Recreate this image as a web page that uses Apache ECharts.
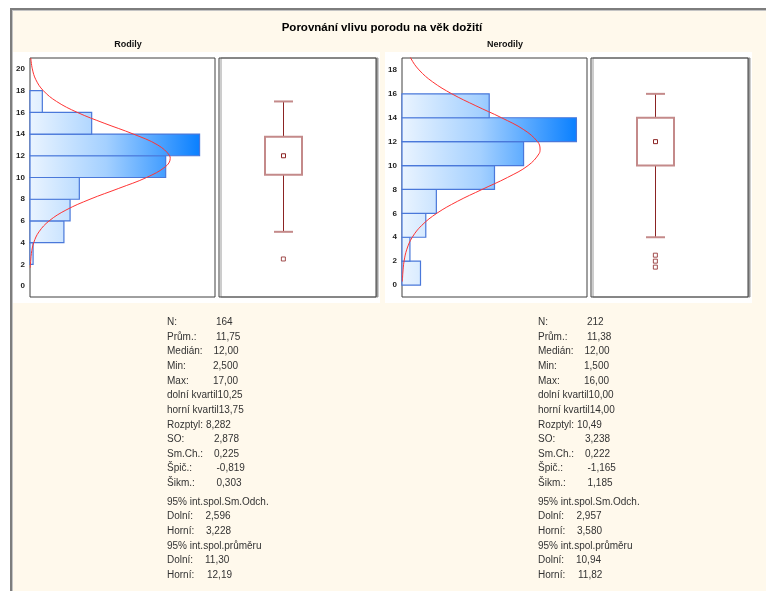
<!DOCTYPE html>
<html>
<head>
<meta charset="utf-8">
<script src="https://cdn.jsdelivr.net/npm/echarts@6/dist/echarts.min.js"></script>
<style>
  html, body { margin: 0; padding: 0; background: #fff; }
  #chart { width: 766px; height: 591px; }
</style>
</head>
<body>
<div id="chart"></div>
<script>
// ---------- data ----------
const titleText = 'Porovnání vlivu porodu na věk dožití';
const groupNames = ['Rodily', 'Nerodily'];

// histogram bins (lower edge of each 2-year bin) and counts
const binWidth = 2;
const rodilyBinStarts = [2, 4, 6, 8, 10, 12, 14, 16];
const rodilyCounts = [1, 11, 13, 16, 44, 55, 20, 4];
const nerodilyBinStarts = [0, 2, 4, 6, 8, 10, 12, 14];
const nerodilyCounts = [7, 3, 9, 13, 35, 46, 66, 33];

// fitted normal curve (value on the vertical axis, expected count horizontally)
const rodilyCurveY = [1.7, 2, 3, 4, 5, 6, 7, 8, 9, 10, 11, 11.75, 12, 13, 14, 15, 16, 17, 18, 19, 20, 21];
const rodilyCurveCount = [0.10, 0.15, 0.45, 1.21, 2.91, 6.18, 11.65, 19.46, 28.80, 37.79, 43.95, 45.47, 45.30, 41.38, 33.50, 24.04, 15.28, 8.61, 4.30, 1.90, 0.75, 0.26];
const nerodilyCurveY = [0.3, 1, 2, 3, 4, 5, 6, 7, 8, 9, 10, 11, 11.38, 12, 13, 14, 15, 16, 17, 18, 19, 20];
const nerodilyCurveCount = [0.15, 0.31, 0.79, 1.84, 3.89, 7.50, 13.14, 20.93, 30.30, 39.88, 47.71, 51.88, 52.24, 51.29, 46.09, 37.66, 27.96, 18.87, 11.59, 6.46, 3.28, 1.51];

// tick labels of the value axes
const rodilyTicks = [0, 2, 4, 6, 8, 10, 12, 14, 16, 18, 20];
const nerodilyTicks = [0, 2, 4, 6, 8, 10, 12, 14, 16, 18];

// summary statistics (null = section header row)
const statLabels = ['N:', 'Prům.:', 'Medián:', 'Min:', 'Max:', 'dolní kvartil', 'horní kvartil', 'Rozptyl:',
  'SO:', 'Sm.Ch.:', 'Špič.:', 'Šikm.:', '95% int.spol.Sm.Odch.', 'Dolní:', 'Horní:', '95% int.spol.průměru', 'Dolní:', 'Horní:'];
const rodilyStats = [164, 11.75, 12.00, 2.5, 17.00, 10.25, 13.75, 8.282, 2.878, 0.225, -0.819, 0.303, null, 2.596, 3.228, null, 11.30, 12.19];
const nerodilyStats = [212, 11.38, 12.00, 1.5, 16.00, 10.00, 14.00, 10.49, 3.238, 0.222, -1.165, 1.185, null, 2.957, 3.580, null, 10.94, 11.82];

// box plot pieces not listed in the table
const rodilyLowerWhisker = 5;
const rodilyOutliers = [2.5];
const nerodilyLowerWhisker = 4;
const nerodilyOutliers = [2.5, 2, 1.5];

// ---------- layout & style ----------
const FONT = '"Liberation Sans", Arial, sans-serif';
const BOX_X = 41;          // horizontal position of the box inside its panel (0..100)
const BOX_W = 37;          // px
const CAP_W = 19;          // px
const BOX_LINE = '#c48a8a';
const WHISKER = '#8b2323';
const rowKinds = ['tab', 'tab', 'tab', 'tab', 'tab', 'join', 'join', 'space', 'tab', 'tab', 'tab', 'tab',
  'head', 'tab', 'tab', 'head', 'tab', 'tab'];
const valueOffsets = [49, 49, 46.5, 46, 46, 0, 0, 0, 47, 47, 49.5, 49.5, 0, 38.5, 39, 0, 38, 40];

function fmt(v, i) {
  if (i === 0) return String(v);
  const s = Math.abs(v) >= 1 ? v.toPrecision(4) : v.toFixed(3);
  return s.replace('.', ',');
}

function rowY(i) {
  return i < 12 ? 322.3 + i * 14.64 : 502 + (i - 12) * 14.66;
}

function textEl(x, y, text, font, fill, align) {
  return {
    type: 'text', x: x, y: y, z: 10,
    style: {
      text: text, font: font, fill: fill || '#333',
      align: align || 'left', textAlign: align || 'left',
      verticalAlign: 'middle', textVerticalAlign: 'middle'
    }
  };
}

function statTexts(x0, values) {
  const out = [];
  statLabels.forEach(function (lab, i) {
    const y = rowY(i);
    const kind = rowKinds[i];
    let txt = lab;
    if (kind === 'join') txt = lab + fmt(values[i], i);
    else if (kind === 'space') txt = lab + ' ' + fmt(values[i], i);
    out.push(textEl(x0, y, txt, '10px ' + FONT, '#333'));
    if (kind === 'tab') out.push(textEl(x0 + valueOffsets[i], y, fmt(values[i], i), '10px ' + FONT, '#333'));
  });
  return out;
}

function histSeries(idx, starts, counts) {
  const maxCount = Math.max.apply(null, counts);
  return {
    type: 'custom', xAxisIndex: idx, yAxisIndex: idx, z: 2,
    data: starts.map(function (s, i) { return [s, s + binWidth, counts[i]]; }),
    encode: { x: 2, y: [0, 1] },
    renderItem: function (params, api) {
      const lo = api.value(0), hi = api.value(1), c = api.value(2);
      const tl = api.coord([0, hi]);
      const br = api.coord([c, lo]);
      const gx0 = api.coord([0, 0])[0];
      const gx1 = api.coord([maxCount, 0])[0];
      return {
        type: 'rect',
        shape: { x: tl[0], y: tl[1], width: br[0] - tl[0], height: br[1] - tl[1] },
        style: {
          fill: new echarts.graphic.LinearGradient(gx0, 0, gx1, 0, [
            { offset: 0, color: '#eaf4ff' },
            { offset: 0.45, color: '#a4d0ff' },
            { offset: 1, color: '#0a80ff' }
          ], true),
          stroke: '#4a78da', lineWidth: 1.2
        }
      };
    }
  };
}

function curveSeries(idx, ys, counts) {
  return {
    type: 'line', xAxisIndex: idx, yAxisIndex: idx, z: 5,
    data: ys.map(function (y, i) { return [counts[i], y]; }),
    symbol: 'none', smooth: 0.4, clip: true,
    lineStyle: { color: '#ff3333', width: 1 },
    silent: true
  };
}

function boxSeries(idx, stats, lowWhisker) {
  // [x, lower whisker, q1, median, q3, upper whisker]
  return {
    type: 'custom', xAxisIndex: idx, yAxisIndex: idx, z: 3,
    data: [[BOX_X, lowWhisker, stats[5], stats[2], stats[6], stats[4]]],
    encode: { x: 0, y: [1, 2, 3, 4, 5] },
    renderItem: function (params, api) {
      const x = api.value(0);
      const pLow = api.coord([x, api.value(1)]);
      const pQ1 = api.coord([x, api.value(2)]);
      const pMed = api.coord([x, api.value(3)]);
      const pQ3 = api.coord([x, api.value(4)]);
      const pHigh = api.coord([x, api.value(5)]);
      const cx = Math.round(pMed[0]) + 0.5;
      return {
        type: 'group',
        children: [
          { type: 'line', shape: { x1: cx, y1: pHigh[1], x2: cx, y2: pQ3[1] }, style: { stroke: WHISKER, lineWidth: 1 } },
          { type: 'line', shape: { x1: cx, y1: pQ1[1], x2: cx, y2: pLow[1] }, style: { stroke: WHISKER, lineWidth: 1 } },
          { type: 'line', shape: { x1: cx - CAP_W / 2, y1: pHigh[1], x2: cx + CAP_W / 2, y2: pHigh[1] }, style: { stroke: BOX_LINE, lineWidth: 2 } },
          { type: 'line', shape: { x1: cx - CAP_W / 2, y1: pLow[1], x2: cx + CAP_W / 2, y2: pLow[1] }, style: { stroke: BOX_LINE, lineWidth: 2 } },
          { type: 'rect', shape: { x: cx - BOX_W / 2, y: pQ3[1], width: BOX_W, height: pQ1[1] - pQ3[1] }, style: { fill: '#fff', stroke: BOX_LINE, lineWidth: 2 } },
          { type: 'rect', shape: { x: cx - 2, y: pMed[1] - 2, width: 4, height: 4 }, style: { fill: '#fff', stroke: WHISKER, lineWidth: 1 } }
        ]
      };
    }
  };
}

function outlierSeries(idx, values) {
  return {
    type: 'scatter', xAxisIndex: idx, yAxisIndex: idx, z: 4,
    data: values.map(function (v) { return [BOX_X, v]; }),
    symbol: 'rect', symbolSize: 4,
    itemStyle: { color: '#fff', borderColor: WHISKER, borderWidth: 1 },
    silent: true
  };
}

function valueAxis(idx, min, max, ticks, showLabels) {
  return {
    type: 'value', gridIndex: idx, min: min, max: max, interval: 1,
    show: true,
    axisLine: { show: false }, axisTick: { show: false }, splitLine: { show: false },
    axisLabel: {
      show: showLabels, margin: 5, fontSize: 8, fontWeight: 'bold', color: '#222', fontFamily: FONT,
      formatter: function (v) { return ticks.indexOf(v) >= 0 ? String(v) : ''; }
    }
  };
}

function hiddenX(idx, max) {
  return { type: 'value', gridIndex: idx, min: 0, max: max, show: false };
}

const gridCommon = { show: true, backgroundColor: '#fff', borderColor: '#404040', borderWidth: 1, containLabel: false };
const boxGridCommon = Object.assign({}, gridCommon, { shadowColor: '#9a9a9a', shadowOffsetX: 2, shadowOffsetY: 0, shadowBlur: 0 });

const option = {
  backgroundColor: '#ffffff',
  animation: false,
  grid: [
    Object.assign({ left: 30, top: 58, width: 185, height: 239 }, gridCommon),
    Object.assign({ left: 219, top: 58, width: 157, height: 239 }, boxGridCommon),
    Object.assign({ left: 402, top: 58, width: 185, height: 239 }, gridCommon),
    Object.assign({ left: 591, top: 58, width: 157, height: 239 }, boxGridCommon)
  ],
  xAxis: [hiddenX(0, 60), hiddenX(1, 100), hiddenX(2, 70), hiddenX(3, 100)],
  yAxis: [
    valueAxis(0, -1, 21, rodilyTicks, true),
    valueAxis(1, -1, 21, rodilyTicks, false),
    valueAxis(2, -1, 19, nerodilyTicks, true),
    valueAxis(3, -1, 19, nerodilyTicks, false)
  ],
  series: [
    histSeries(0, rodilyBinStarts, rodilyCounts),
    curveSeries(0, rodilyCurveY, rodilyCurveCount),
    boxSeries(1, rodilyStats, rodilyLowerWhisker),
    outlierSeries(1, rodilyOutliers),
    histSeries(2, nerodilyBinStarts, nerodilyCounts),
    curveSeries(2, nerodilyCurveY, nerodilyCurveCount),
    boxSeries(3, nerodilyStats, nerodilyLowerWhisker),
    outlierSeries(3, nerodilyOutliers)
  ],
  graphic: {
    elements: [
      // frame and panels
      { type: 'rect', z: -100, shape: { x: 10, y: 8, width: 756, height: 583 }, style: { fill: '#fff9ec' } },
      { type: 'rect', z: -90, shape: { x: 10, y: 8, width: 756, height: 2 }, style: { fill: '#7d7d7d' } },
      { type: 'rect', z: -90, shape: { x: 10, y: 10, width: 756, height: 1 }, style: { fill: '#c4c4c4' } },
      { type: 'rect', z: -90, shape: { x: 10, y: 8, width: 2, height: 583 }, style: { fill: '#7d7d7d' } },
      { type: 'rect', z: -90, shape: { x: 12, y: 10, width: 1, height: 581 }, style: { fill: '#c4c4c4' } },
      { type: 'rect', z: -80, shape: { x: 13, y: 52, width: 367, height: 251 }, style: { fill: '#ffffff' } },
      { type: 'rect', z: -80, shape: { x: 385, y: 52, width: 367, height: 251 }, style: { fill: '#ffffff' } },
      // titles
      textEl(382, 28, titleText, 'bold 11.5px ' + FONT, '#000', 'center'),
      textEl(128, 45, groupNames[0], 'bold 9px ' + FONT, '#111', 'center'),
      textEl(505, 45, groupNames[1], 'bold 9px ' + FONT, '#111', 'center')
    ].concat(statTexts(167, rodilyStats), statTexts(538, nerodilyStats))
  }
};

const chart = echarts.init(document.getElementById('chart'), null, { renderer: 'canvas', width: 766, height: 591 });
chart.setOption(option);
</script>
</body>
</html>
